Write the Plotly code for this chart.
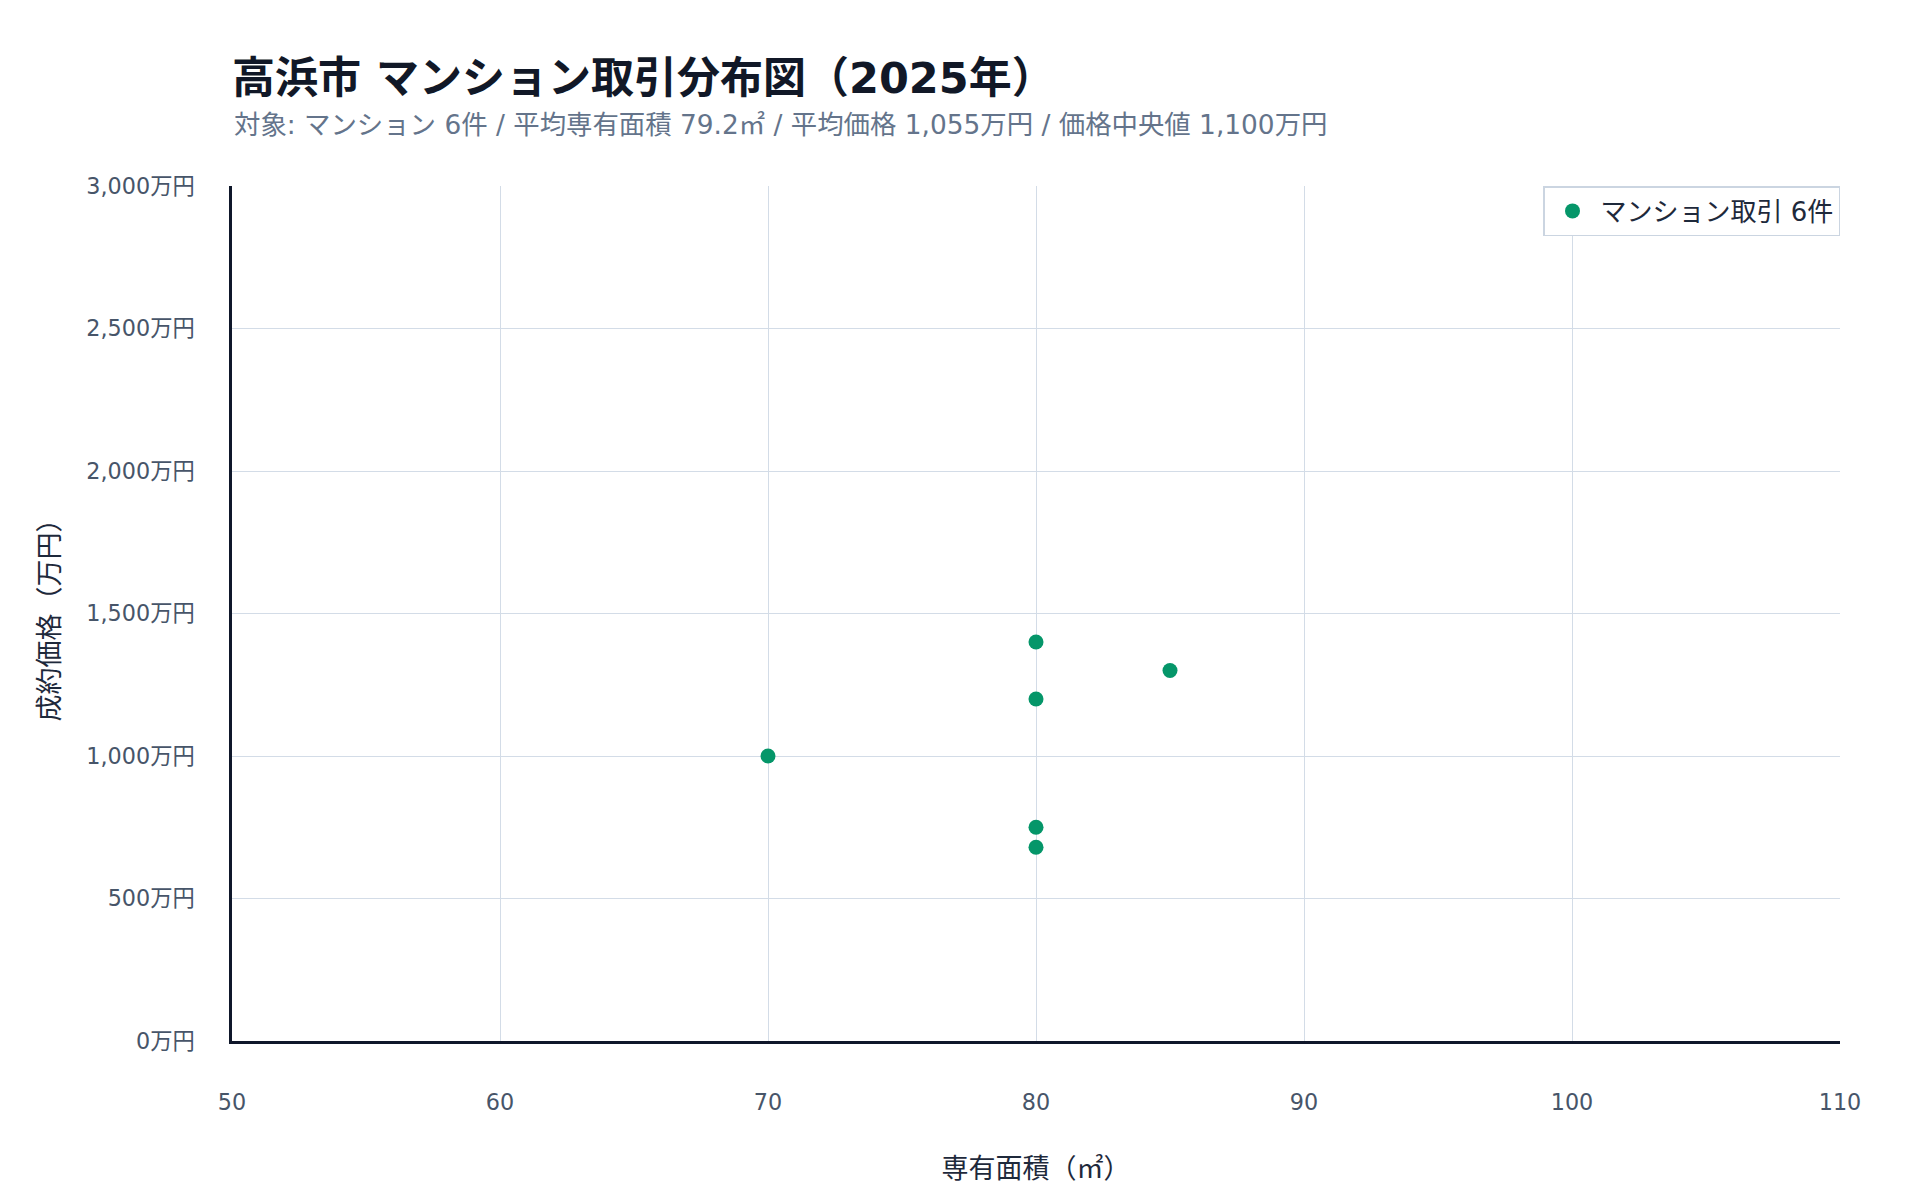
"""Takahama condo transaction scatter (2025)."""

import plotly.graph_objects as go  # type: ignore

# transactions: floor area (m2) and contract price (10k yen)
AREAS: list[float] = [70, 80, 80, 80, 80, 85]
PRICES: list[float] = [1000, 1400, 1200, 750, 680, 1300]

TITLE = "高浜市 マンション取引分布図（2025年）"
SUBTITLE = (
    "対象: マンション 6件 / 平均専有面積 79.2㎡ / 平均価格 1,055万円 / 価格中央値 1,100万円"
)
SERIES_NAME = "マンション取引 6件"
X_TITLE = "専有面積（㎡）"
Y_TITLE = "成約価格（万円）"

FONT = "DejaVu Sans, Noto Sans CJK JP, sans-serif"
DOT_COLOR = "#059669"
GRID = "#d3dce7"
AXIS_LINE = "#0f172a"
TICK_COLOR = "#475569"

fig = go.Figure()
fig.add_trace(
    go.Scatter(
        x=AREAS,
        y=PRICES,
        mode="markers",
        name=SERIES_NAME,
        marker=dict(size=15, color=DOT_COLOR),
    )
)

fig.update_layout(
    font=dict(family=FONT, color="#1e293b"),
    paper_bgcolor="white",
    plot_bgcolor="white",
    margin=dict(l=224, r=72, t=178, b=151),
    title=dict(
        text=f"<b>{TITLE}</b>",
        font=dict(size=43, color="#111827"),
        x=0,
        xref="paper",
        xanchor="left",
        y=1 - 70 / 1184,
        yref="container",
        yanchor="middle",
    ),
    showlegend=True,
    legend=dict(
        x=1,
        y=1,
        xanchor="right",
        yanchor="top",
        bgcolor="white",
        bordercolor="#cbd5e1",
        borderwidth=1.5,
        itemwidth=46,
        font=dict(size=26, color="#1e293b"),
    ),
    xaxis=dict(
        title=dict(text=X_TITLE, font=dict(size=27, color="#1e293b"), standoff=46),
        range=[50, 110],
        dtick=10,
        showgrid=True,
        gridcolor=GRID,
        gridwidth=1,
        zeroline=False,
        showline=True,
        linecolor=AXIS_LINE,
        linewidth=2.5,
        ticks="",
        ticklabelstandoff=39,
        tickfont=dict(size=22.3, color=TICK_COLOR),
        automargin=False,
    ),
    yaxis=dict(
        title=dict(text=Y_TITLE, font=dict(size=27, color="#1e293b"), standoff=19),
        range=[0, 3000],
        dtick=500,
        tickformat=",d",
        ticksuffix="万円",
        showgrid=True,
        gridcolor=GRID,
        gridwidth=1,
        zeroline=False,
        showline=True,
        linecolor=AXIS_LINE,
        linewidth=2.5,
        ticks="",
        ticklabelstandoff=30,
        tickfont=dict(size=22.3, color=TICK_COLOR),
        automargin=False,
    ),
    separators=".,",
)

fig.add_annotation(
    text=SUBTITLE,
    x=0,
    xref="paper",
    xanchor="left",
    y=1 + (178 - 117) / 855,
    yref="paper",
    yanchor="middle",
    showarrow=False,
    font=dict(size=26.4, color="#64748b"),
)

fig.write_html("out.html")
